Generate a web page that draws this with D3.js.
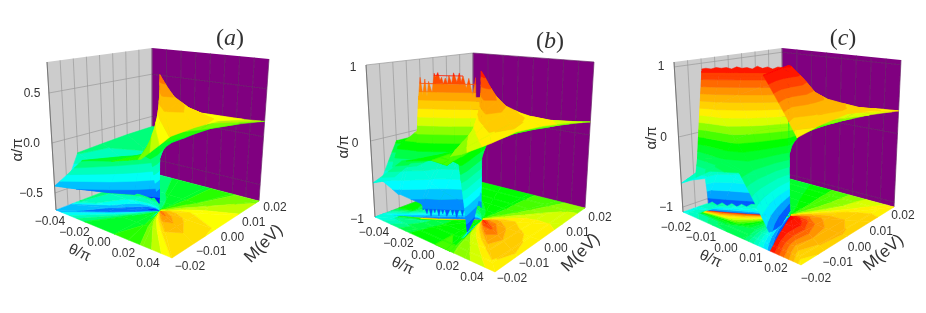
<!DOCTYPE html>
<html>
<head>
<meta charset="utf-8">
<script src="https://cdn.jsdelivr.net/npm/d3@7"></script>
<style>
html, body { margin: 0; padding: 0; background: #fff; }
text { font-family: "Liberation Sans", Arial, sans-serif; fill: #333; }
</style>
</head>
<body>
<div id="chart"></div>
<script>
// ray ends in units of the axis half range, [theta, M]; a ray listed twice is a cut in the surface
const raysA = [[1,1],[1,.5],[1,0],[1,-.5],[1,-1],[.5,-1],[.25,-1],[0,-1],[-.5,-1],[-1,-1],[-1,-.7],[-1,-.5],[-1,0],[-1,.5],[-1,1],[-.5,1],[0,1],[.5,1]];
const radiiA = [.01,.1,.25,.5,1];
const alphaA = [
  [.28,.26,.24,.2,.16],
  [.5,.46,.4,.33,.28],
  [.6,.55,.5,.42,.35],
  [.7,.66,.6,.5,.37],
  [.65,.6,.54,.44,.37],
  [.3,.28,.22,.15,.1],
  [-.55,-.45,-.1,0,.05],
  [-.03,-.05,-.05,-.03,0],
  [-.15,-.12,-.1,-.08,-.08],
  [-.35,-.45,-.5,-.48,-.43],
  [-.45,-.52,-.5,-.46,-.4],
  [-.5,-.55,-.52,-.42,-.17],
  [-.6,-.55,-.42,-.3,-.15],
  [-.45,-.33,-.22,-.16,-.13],
  [-.28,-.2,-.15,-.12,-.12],
  [-.15,-.12,-.1,-.08,-.08],
  [0,-.02,-.03,-.03,-.02],
  [.15,.12,.1,.08,.08]
];

const raysB = [[1,1],[1,.5],[1,0],[1,-.5],[1,-1],[.5,-1],[.32,-1],[.25,-1],[.18,-1],[0,-1],[-.5,-1],[-1,-1],[-1,-.83],[-1,-.83],[-1,-.5],[-1,0],[-1,.5],[-1,1],[-.5,1],[0,1],[.5,1]];
const radiiB = [.01,.1,.25,.45,.6,.62,.82,.84,1];
const alphaB = [
  [.35,.35,.32,.28,.25,.25,.21,.21,.18],
  [.65,.6,.52,.42,.37,.37,.33,.33,.3],
  [.8,.75,.65,.52,.46,.46,.42,.42,.38],
  [.95,.9,.8,.65,.54,.54,.47,.47,.42],
  [.85,.8,.7,.58,.49,.49,.43,.43,.4],
  [.5,.45,.36,.28,.23,.23,.2,.2,.18],
  [.3,.28,.25,.2,.18,.18,.15,.15,.12],
  [-.5,-.7,-.9,-.98,-.3,-.1,0,0,0],
  [0,-.02,-.03,-.03,-.02,-.01,0,0,0],
  [0,-.03,-.03,-.02,0,0,0,0,0],
  [-.02,-.05,-.07,-.08,-.1,-.1,-.12,-.12,-.13],
  [.1,0,-.1,-.2,-.3,-.3,-.35,-.5,-.55],
  [.6,.6,.6,.6,.6,.15,-.08,-.5,-.55],
  [-.82,-.82,-.82,-.82,-.85,-.82,-.72,-.72,-.55],
  [-.82,-.82,-.8,-.7,-.6,-.55,-.2,-.1,-.08],
  [-.85,-.75,-.6,-.4,-.28,-.27,-.15,-.14,-.08],
  [-.6,-.45,-.3,-.2,-.14,-.14,-.1,-.1,-.08],
  [-.35,-.25,-.18,-.13,-.11,-.11,-.08,-.08,-.08],
  [-.2,-.15,-.1,-.08,-.07,-.07,-.06,-.06,-.05],
  [0,-.02,-.03,-.03,-.02,-.02,-.02,-.02,-.02],
  [.2,.15,.1,.08,.08,.08,.08,.08,.08]
];
const fringeRadiiB = [.05,.08,.115,.14,.17,.19,.205,.23,.26,.28,.305,.32,.34,.36,.375,.39,.41,.43,.445,.47,.5,.52,.535,.56,.58,.6];
const fringeTopB = [.86,.62,.85,.72,.88,.8,.92,.8,.92,.78,.88,.77,.85,.77,.86,.82,.92,.86,.91,.65,.8,.6,.83,.62,.85,.6];
const fringeBottomRadiiB = [.14,.16,.18,.2,.22,.24,.26,.28,.3,.32,.34,.36,.38,.4,.42,.44,.46,.48,.5,.52,.54,.56,.58,.6];
const fringeBottomB = [-.85,-.93,-.85,-.96,-.86,-.9,-.98,-.87,-.95,-.86,-.92,-.97,-.86,-.94,-.87,-.97,-.86,-.93,-.87,-.98,-.86,-.95,-.88,-.9];

const raysC = [[1,1],[1,.5],[1,0],[1,-.5],[1,-1],[.47,-1],[.47,-1],[0,-1],[-.5,-1],[-1,-1],[-1,-.8],[-1,-.8],[-1,-.5],[-1,0],[-1,.5],[-1,1],[-.5,1],[0,1],[.5,1]];
const radiiC = [.01,.1,.25,.45,.67,.84,.86,1];
const alphaC = [
  [.55,.55,.48,.42,.38,.36,.36,.33],
  [.85,.8,.68,.56,.5,.46,.46,.43],
  [1,.95,.85,.68,.56,.52,.52,.47],
  [1,1,.95,.78,.6,.5,.5,.42],
  [1,1,.95,.78,.55,.42,.42,.34],
  [1,1,1,1,1,1,1,1],
  [-1,-1,-1,-1,-.95,-.9,-.9,-.85],
  [-.6,-.55,-.5,-.4,-.35,-.3,-.3,-.25],
  [.15,.15,.15,.12,.05,-.2,-.25,-.35],
  [.8,.75,.7,.6,.45,-.3,-.5,-.66],
  [.92,.92,.92,.92,.92,.92,-.5,-.66],
  [-.92,-.92,-.92,-.92,-.92,-.92,-.62,-.66],
  [-.9,-.85,-.75,-.7,-.65,-.5,-.5,-.5],
  [-.75,-.65,-.55,-.45,-.4,-.35,-.35,-.3],
  [-.55,-.45,-.35,-.3,-.25,-.22,-.22,-.2],
  [-.4,-.3,-.25,-.2,-.18,-.16,-.16,-.15],
  [-.2,-.15,-.12,-.1,-.1,-.1,-.1,-.1],
  [.05,.03,.02,.02,.03,.03,.03,.03],
  [.3,.25,.2,.18,.18,.2,.2,.2]
];
const fringeRadiiC = [.05,.1,.15,.2,.25,.3,.35,.4,.45,.5,.55,.6,.65,.7,.75,.8,.84];
const fringeTopC = [.97,.98,.95,.98,.96,.99,.95,.97,.96,.98,.95,.97,.96,.97,.95,.96,.95];
const fringeBottomC = [-.93,-.93,-.93,-.93,-.93,-.93,-.93,-.93,-.97,-.94,-.98,-.94,-.98,-.94,-.98,-.94,-.97];

const thetaTicksAB = [-0.04,-0.02,0,0.02,0.04];
const thetaTicksC = [-0.02,-0.01,0,0.01,0.02];
const massTicks = [-0.02,-0.01,0,0.01,0.02];
const alphaTicksA = [-0.5,0,0.5];
const alphaTicksBC = [-1,0,1];

// alpha value of each rainbow colour, one list per panel
const rainbowColors = ["#0000ff","#0070ff","#00ffff","#00ff99","#00ff00","#b0ff00","#ffff00","#ffa000","#ff0000"];
const colorStopsA = [-.62,-.5,-.33,-.17,0,.2,.32,.58,.9];
const colorStopsB = [-1.1,-.88,-.6,-.3,-.05,.22,.34,.63,1];
const colorStopsC = [-1.08,-.92,-.72,-.42,-.05,.2,.3,.62,1];

const width = 926, height = 313;

const panels = [
  { name: "a", rays: raysA, radii: radiiA, alpha: alphaA, thetaMax: .04, thetaTicks: thetaTicksAB, alphaTicks: alphaTicksA,
    zRange: [-.67,.81], colorStops: colorStopsA, band: .09, zFormat: d3.format(".1f"),
    floor: { left: [56,210], back: [152,173], front: [172,258], right: [259,201] },
    top: { left: [47,62], back: [152,48], front: [170,85], right: [269,59] },
    thetaLabels: [[50,221],[148,263]], massLabels: [[190,266],[275,207]], alphaLabels: [[31,193],[32,93]],
    alphaTitle: [17,150], thetaTitle: [80,252,24], massTitle: [263,243,-45], tag: [230,37] },
  { name: "b", rays: raysB, radii: radiiB, alpha: alphaB, thetaMax: .04, thetaTicks: thetaTicksAB, alphaTicks: alphaTicksBC,
    zRange: [-1,1], colorStops: colorStopsB, band: .11, zFormat: d3.format(".0f"),
    floor: { left: [375,217], back: [473,180], front: [495,272], right: [585,208] },
    top: { left: [366,65], back: [473,53], front: [490,88], right: [594,62] },
    thetaLabels: [[374,232],[472,277]], massLabels: [[512,278],[600,217]], alphaLabels: [[357,219],[353,67]],
    alphaTitle: [343,147], thetaTitle: [403,265,24], massTitle: [580,252,-45], tag: [550,40],
    fringe: { ray: [-1,-.83], radii: fringeRadiiB, top: fringeTopB, bottomRadii: fringeBottomRadiiB, bottom: fringeBottomB, topBase: .5, bottomBase: -.8 } },
  { name: "c", rays: raysC, radii: radiiC, alpha: alphaC, thetaMax: .02, thetaTicks: thetaTicksC, alphaTicks: alphaTicksBC,
    zRange: [-1.07,1.07], colorStops: colorStopsC, band: .1, zFormat: d3.format(".0f"),
    floor: { left: [683,212], back: [783,177], front: [801,265], right: [894,207] },
    top: { left: [674,62], back: [782,48], front: [795,72], right: [901,60] },
    thetaLabels: [[676,227],[776,268]], massLabels: [[816,278],[903,215]], alphaLabels: [[666,207],[661,66]],
    alphaTitle: [651,138], thetaTitle: [711,258,24], massTitle: [883,252,-40], tag: [843,37],
    fringe: { ray: [-1,-.8], radii: fringeRadiiC, top: fringeTopC, bottomRadii: fringeRadiiC, bottom: fringeBottomC, topBase: .85, bottomBase: -.85 } }
];

const svg = d3.select("#chart").append("svg")
  .attr("width", width).attr("height", height);

svg.append("filter").attr("id", "soft")
  .attr("filterUnits", "userSpaceOnUse")
  .attr("x", 0).attr("y", 0).attr("width", width).attr("height", height)
  .append("feGaussianBlur").attr("stdDeviation", .7);

const root = svg.append("g").attr("filter", "url(#soft)");
root.append("rect").attr("width", width).attr("height", height).attr("fill", "#fff");

const line = d3.line();

// keep the part of a polygon of [theta, M, alpha] points between two alpha levels
function clipAlpha(poly, level, keepAbove) {
  const out = [];
  poly.forEach((p, i) => {
    const q = poly[(i + 1) % poly.length];
    const pIn = keepAbove ? p[2] >= level : p[2] <= level;
    const qIn = keepAbove ? q[2] >= level : q[2] <= level;
    if (pIn) out.push(p);
    if (pIn !== qIn) {
      const f = (level - p[2]) / (q[2] - p[2]);
      out.push([p[0] + f * (q[0] - p[0]), p[1] + f * (q[1] - p[1]), level]);
    }
  });
  return out;
}

panels.forEach(panel => {
  const g = root.append("g").attr("class", "panel-" + panel.name);

  const zScale = d3.scaleLinear().domain(panel.zRange).range([0, 1]);
  const uScale = d3.scaleLinear().domain([-1, 1]).range([0, 1]);

  const plane = (quad, t, m) => {
    const u = uScale(t), v = uScale(m);
    const near = d3.interpolate(quad.left, quad.front)(u);
    const far = d3.interpolate(quad.back, quad.right)(u);
    return d3.interpolate(near, far)(v);
  };
  const project = (t, m, z) => d3.interpolate(plane(panel.floor, t, m), plane(panel.top, t, m))(z);
  const toScreen = p => project(p[0], p[1], zScale(p[2]));
  const toFloor = p => project(p[0], p[1], 0);

  const rainbow = d3.scaleLinear().domain(panel.colorStops).range(rainbowColors).clamp(true);
  const levels = d3.range(Math.floor(panel.zRange[0] / panel.band), Math.ceil(panel.zRange[1] / panel.band) + 1)
    .map(k => k * panel.band);

  const drawBands = (layer, poly, place) => {
    const lo = d3.min(poly, p => p[2]), hi = d3.max(poly, p => p[2]);
    levels.forEach(level => {
      const next = level + panel.band;
      if (next < lo || level > hi) return;
      let part = clipAlpha(poly, level, true);
      if (part.length) part = clipAlpha(part, next, false);
      if (part.length < 3) return;
      const colour = rainbow(level + panel.band / 2);
      layer.append("path")
        .attr("d", line(part.map(place)) + "Z")
        .attr("fill", colour).attr("stroke", colour).attr("stroke-width", .5)
        .attr("stroke-linejoin", "round");
    });
  };

  // walls and their grid
  const wall = (a, b) => line([project(...a), project(...b), project(b[0], b[1], 1), project(a[0], a[1], 1)]) + "Z";
  g.append("path").attr("d", wall([-1,-1,0],[-1,1,0])).attr("fill", "#cccccc");
  g.append("path").attr("d", wall([-1,1,0],[1,1,0])).attr("fill", "#800080");

  const grid = d3.range(-1, 1.01, .25);
  const drawGrid = (colour, edge) => {
    grid.forEach(f => {
      const a = edge(f);
      g.append("path").attr("d", line([project(a[0], a[1], 0), project(a[0], a[1], 1)]))
        .attr("stroke", colour).attr("stroke-width", .7).attr("fill", "none");
    });
    panel.alphaTicks.forEach(v => {
      const a = edge(-1), b = edge(1), z = zScale(v);
      g.append("path").attr("d", line([project(a[0], a[1], z), project(b[0], b[1], z)]))
        .attr("stroke", colour).attr("stroke-width", .7).attr("fill", "none");
    });
  };
  drawGrid("#9a9a9a", f => [-1, f]);
  drawGrid("#6a2a6a", f => [f, 1]);

  // mesh cells, cuts are skipped
  const n = panel.rays.length;
  const cells = [];
  panel.rays.forEach((ray, j) => {
    const nextJ = (j + 1) % n;
    const other = panel.rays[nextJ];
    if (ray[0] === other[0] && ray[1] === other[1]) return;
    d3.range(panel.radii.length - 1).forEach(k => {
      const r0 = panel.radii[k], r1 = panel.radii[k + 1];
      cells.push([
        [ray[0] * r0, ray[1] * r0, panel.alpha[j][k]],
        [ray[0] * r1, ray[1] * r1, panel.alpha[j][k + 1]],
        [other[0] * r1, other[1] * r1, panel.alpha[nextJ][k + 1]],
        [other[0] * r0, other[1] * r0, panel.alpha[nextJ][k]]
      ]);
    });
  });

  // floor carries the same mesh flattened
  const floorLayer = g.append("g");
  cells.forEach(c => drawBands(floorLayer, c, toFloor));

  // surface, far cells first
  const items = cells.map(poly => ({ poly, key: d3.mean(poly, p => p[1] - p[0]) }));
  if (panel.fringe) {
    const f = panel.fringe;
    const at = (r, a) => [f.ray[0] * r, f.ray[1] * r, a];
    const up = f.radii.map((r, i) => at(r, f.top[i]));
    const upBase = f.radii.map(r => at(r, f.topBase)).reverse();
    const down = f.bottomRadii.map((r, i) => at(r, f.bottom[i]));
    const downBase = f.bottomRadii.map(r => at(r, f.bottomBase)).reverse();
    items.push({ poly: up.concat(upBase), key: -.3 });
    items.push({ poly: down.concat(downBase), key: .3 });
  }
  items.sort((a, b) => d3.descending(a.key, b.key));
  const surface = g.append("g");
  items.forEach(item => drawBands(surface, item.poly, toScreen));

  // left edge of the box
  g.append("path").attr("d", line([project(-1,-1,0), project(-1,-1,1)]))
    .attr("stroke", "#666").attr("stroke-width", .8).attr("fill", "none");

  // tick labels sit on their own lines
  const labelRow = (ticks, ends, fmt, anchor) => {
    const sx = d3.scaleLinear().domain([ticks[0], ticks[ticks.length - 1]]).range([ends[0][0], ends[1][0]]);
    const sy = d3.scaleLinear().domain([ticks[0], ticks[ticks.length - 1]]).range([ends[0][1], ends[1][1]]);
    ticks.forEach(v => {
      g.append("text").attr("x", sx(v)).attr("y", sy(v)).attr("dy", ".35em")
        .attr("text-anchor", anchor).attr("font-size", 12)
        .text(fmt(v).replace("-", "\u2212"));
    });
  };
  labelRow(panel.thetaTicks, panel.thetaLabels, d3.format(".2f"), "middle");
  labelRow(massTicks, panel.massLabels, d3.format(".2f"), "middle");
  labelRow(panel.alphaTicks, panel.alphaLabels, panel.zFormat, "middle");

  const title = (pos, angle, text, size) => g.append("text")
    .attr("transform", `translate(${pos[0]},${pos[1]}) rotate(${angle})`)
    .attr("text-anchor", "middle").attr("dy", ".35em").attr("font-size", size).text(text);
  title(panel.alphaTitle, -90, "\u03b1/\u03c0", 15);
  title(panel.thetaTitle, panel.thetaTitle[2], "\u03b8/\u03c0", 15);
  title(panel.massTitle, panel.massTitle[2], "M(eV)", 17);

  const tag = g.append("text").attr("x", panel.tag[0]).attr("y", panel.tag[1]).attr("dy", ".35em")
    .attr("text-anchor", "middle").attr("font-size", 24)
    .style("font-family", "'Liberation Serif', serif");
  tag.append("tspan").text("(");
  tag.append("tspan").attr("font-style", "italic").text(panel.name);
  tag.append("tspan").text(")");
});
</script>
</body>
</html>
